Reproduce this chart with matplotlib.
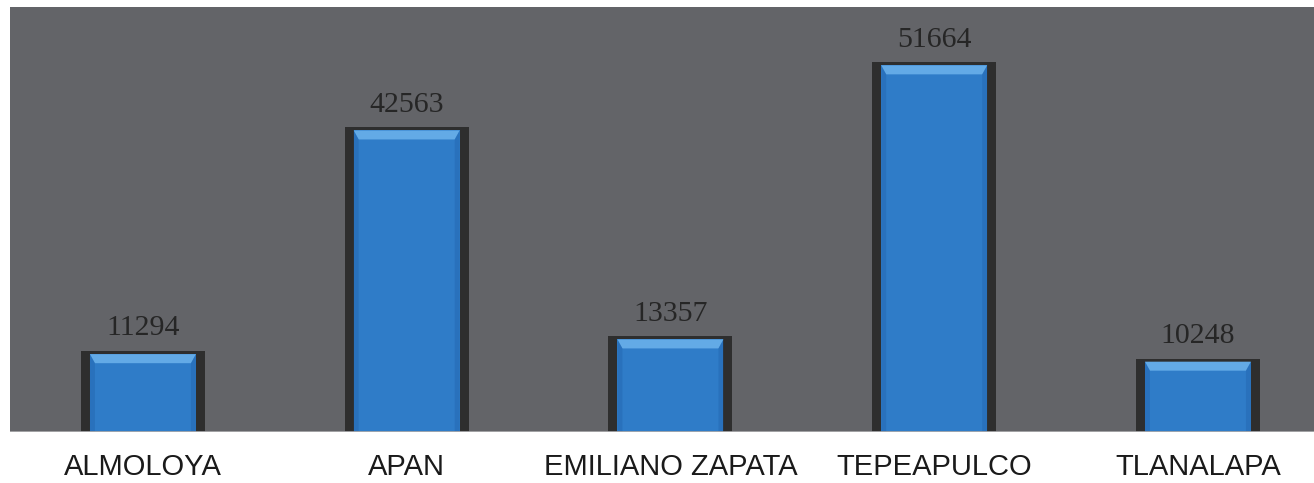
import numpy as np
import matplotlib
matplotlib.use("Agg")
import matplotlib.pyplot as plt
from matplotlib.patches import Polygon

municipios = ["ALMOLOYA", "APAN", "EMILIANO ZAPATA", "TEPEAPULCO", "TLANALAPA"]
poblacion = [11294, 42563, 13357, 51664, 10248]

bg_gray = "#636468"
edge_dark = "#2e2e2e"
blue = "#2f7cc8"
blue_light = "#63aae6"
blue_dark = "#1f5fa6"

fig = plt.figure(figsize=(13.14, 4.83), dpi=100)
ax = fig.add_axes([10/1314., 51/483., 1304/1314., 425/483.])
ax.set_facecolor(bg_gray)

ymax = 59400.
ax.set_ylim(0, ymax)
ax.set_xlim(-0.504, 4.44)

# pixel -> data helpers for the bevel pieces
px_y = ymax / 425.
px_x = 1. / 263.75

x = np.arange(len(municipios))
w_out = 124 * px_x
w_in = 106 * px_x

# dark frame behind every bar
ax.bar(x, poblacion, width=w_out, color=edge_dark, zorder=2)
inner_top = [v - 3 * px_y for v in poblacion]
ax.bar(x, inner_top, width=w_in, color=blue, zorder=3)

# bevel: light top edge, slightly darker sides
for xi, top in zip(x, inner_top):
    l, r = xi - w_in / 2, xi + w_in / 2
    bev = 9 * px_y
    side = 5 * px_x
    ax.add_patch(Polygon([[l, top], [r, top], [r - side, top - bev], [l + side, top - bev]],
                         closed=True, color=blue_light, lw=0, zorder=4))
    ax.add_patch(Polygon([[l, top], [l + side, top - bev], [l + side, 0], [l, 0]],
                         closed=True, color=blue_dark, lw=0, zorder=4, alpha=0.35))
    ax.add_patch(Polygon([[r, top], [r - side, top - bev], [r - side, 0], [r, 0]],
                         closed=True, color=blue_dark, lw=0, zorder=4, alpha=0.35))

for xi, v in zip(x, poblacion):
    ax.annotate(str(v), xy=(xi, v), xytext=(0, 7), textcoords="offset points",
                ha="center", va="bottom", fontsize=21.5, color="#262626",
                family="Liberation Serif")

ax.axhline(0, color="#a9a9ab", lw=2.0, zorder=5)

ax.set_xticks(x)
ax.set_xticklabels(municipios, fontsize=21, family="Liberation Sans", color="#1a1a1a")
ax.tick_params(axis="x", length=0, pad=15)
ax.set_yticks([])
for s in ax.spines.values():
    s.set_visible(False)

fig.savefig("out.png", dpi=100, facecolor="white")
